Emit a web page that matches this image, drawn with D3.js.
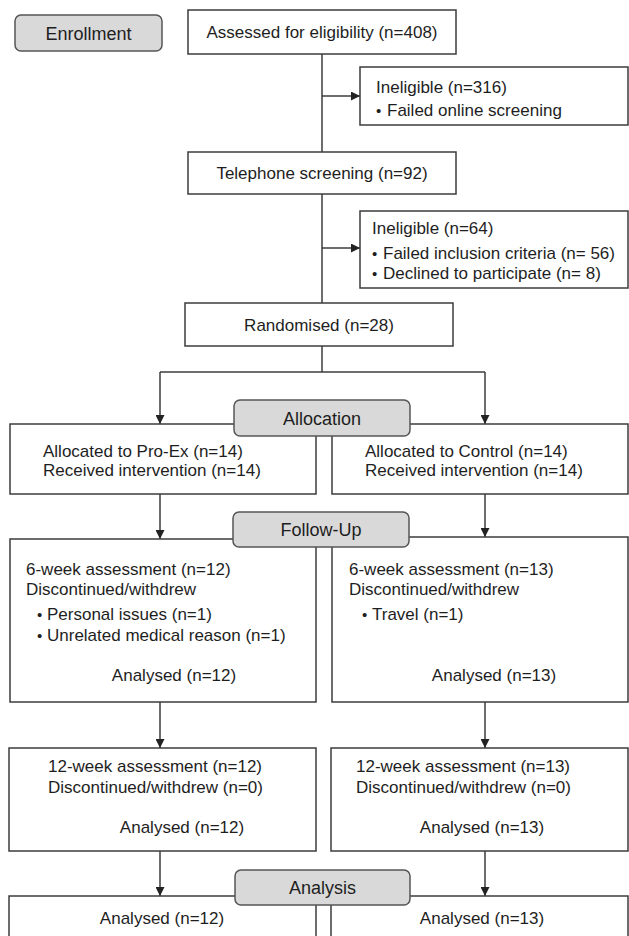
<!DOCTYPE html>
<html>
<head>
<meta charset="utf-8">
<script src="https://cdn.jsdelivr.net/npm/d3@7"></script>
<style>
  body { margin: 0; background: #fff; }
  text { font-family: "Liberation Sans", Arial, sans-serif; fill: #1e1e1e; }
</style>
</head>
<body>
<script>
// flow data
const phases = ['Enrollment', 'Allocation', 'Follow-Up', 'Analysis'];
const screening = ['Assessed for eligibility', 'Telephone screening', 'Randomised'];
const screeningN = [408, 92, 28];
const exclusionN = [316, 64];
const exclusionReasons = [
  ['Failed online screening'],
  ['Failed inclusion criteria (n= 56)', 'Declined to participate (n= 8)']
];
const arms = ['Pro-Ex', 'Control'];
const allocatedN = [14, 14];
const receivedN = [14, 14];
const week6N = [12, 13];
const week6Reasons = [['Personal issues (n=1)', 'Unrelated medical reason (n=1)'], ['Travel (n=1)']];
const week12N = [12, 13];
const week12WithdrewN = [0, 0];
const analysedN = [12, 13];

const W = 629, H = 936;
const LINE = '#3c3c3c';

const svg = d3.select('body').append('svg')
  .attr('width', W)
  .attr('height', H);

svg.append('defs').append('marker')
  .attr('id', 'head')
  .attr('markerUnits', 'userSpaceOnUse')
  .attr('markerWidth', 10)
  .attr('markerHeight', 9)
  .attr('refX', 9)
  .attr('refY', 4.5)
  .attr('orient', 'auto')
  .append('path')
  .attr('d', 'M0,0L9,4.5L0,9Z')
  .attr('fill', '#222');

const gLines = svg.append('g');
const gBoxes = svg.append('g');
const gPhase = svg.append('g');
const gText = svg.append('g');

function line(pts, head) {
  gLines.append('path')
    .attr('d', d3.line()(pts))
    .attr('fill', 'none')
    .attr('stroke', LINE)
    .attr('stroke-width', 1.5)
    .attr('marker-end', head ? 'url(#head)' : null);
}

function box(x0, y0, x1, y1) {
  gBoxes.append('rect')
    .attr('x', x0).attr('y', y0)
    .attr('width', x1 - x0).attr('height', y1 - y0)
    .attr('fill', '#fff')
    .attr('stroke', LINE)
    .attr('stroke-width', 1.5);
}

function phaseBox(name, x0, y0, x1, y1) {
  gPhase.append('rect')
    .attr('x', x0).attr('y', y0)
    .attr('width', x1 - x0).attr('height', y1 - y0)
    .attr('rx', 6)
    .attr('fill', '#d9d9d9')
    .attr('stroke', '#555')
    .attr('stroke-width', 1.5);
  label((x0 + x1) / 2, (y0 + y1) / 2 + 6.5, name, 'middle', 18);
}

function label(x, y, str, anchor, size) {
  gText.append('text')
    .attr('x', x).attr('y', y)
    .attr('text-anchor', anchor || 'start')
    .style('font-size', (size || 17) + 'px')
    .text(str);
}

function bullet(x, tx, y, str) {
  label(x, y, '\u2022', 'start', 15);
  label(tx, y, str);
}

// enrollment column
const trunkX = 322;
const stepBox = [[188, 10, 456, 54], [188, 152, 456, 194], [185, 303, 453, 346]];
screening.forEach((s, i) => {
  const b = stepBox[i];
  box(b[0], b[1], b[2], b[3]);
  label((b[0] + b[2]) / 2, (b[1] + b[3]) / 2 + 6, s + ' (n=' + screeningN[i] + ')', 'middle');
});
line([[trunkX, 54], [trunkX, 152]]);
line([[trunkX, 194], [trunkX, 303]]);

const exclBox = [[360, 67, 628, 125], [360, 211, 628, 288]];
const exclArrowY = [96, 248];
const exclTextX = [[376, 387], [372, 383]];
const exclLineY = [[93, 116], [234, 259, 279]];
exclusionN.forEach((n, i) => {
  const b = exclBox[i];
  box(b[0], b[1], b[2], b[3]);
  line([[trunkX, exclArrowY[i]], [b[0], exclArrowY[i]]], true);
  label(exclTextX[i][0], exclLineY[i][0], 'Ineligible (n=' + n + ')');
  exclusionReasons[i].forEach((r, j) => {
    bullet(exclTextX[i][0], exclTextX[i][1], exclLineY[i][j + 1], r);
  });
});

// arms
const armX = d3.scaleOrdinal().domain(arms).range([160, 485]);
const armLeft = d3.scaleOrdinal().domain(arms).range([10, 332]);
const armRight = d3.scaleOrdinal().domain(arms).range([316, 628]);

line([[trunkX, 346], [trunkX, 372]]);
line([[armX(arms[0]), 372], [armX(arms[1]), 372]]);

const allocTextX = d3.scaleOrdinal().domain(arms).range([43, 365]);
const w6TextX = d3.scaleOrdinal().domain(arms).range([26, 349]);
const w6Bullet = d3.scaleOrdinal().domain(arms).range([[37, 47], [362, 372]]);
const w6AnalysedX = d3.scaleOrdinal().domain(arms).range([174, 494]);
const w12TextX = d3.scaleOrdinal().domain(arms).range([48, 356]);
const w12AnalysedX = d3.scaleOrdinal().domain(arms).range([182, 482]);
const finalX = d3.scaleOrdinal().domain(arms).range([162, 482]);

arms.forEach((arm, i) => {
  const x = armX(arm), l = armLeft(arm), r = armRight(arm);
  // allocation
  line([[x, 372], [x, 424]], true);
  box(l, 424, r, 494);
  label(allocTextX(arm), 457, 'Allocated to ' + arm + ' (n=' + allocatedN[i] + ')');
  label(allocTextX(arm), 476, 'Received intervention (n=' + receivedN[i] + ')');
  // 6-week
  const top6 = i === 0 ? 539 : 537;
  line([[x, 494], [x, top6]], true);
  box(l, top6, r, 702);
  label(w6TextX(arm), 575, '6-week assessment (n=' + week6N[i] + ')');
  label(w6TextX(arm), 595, 'Discontinued/withdrew');
  week6Reasons[i].forEach((reason, j) => {
    bullet(w6Bullet(arm)[0], w6Bullet(arm)[1], 620 + j * 21, reason);
  });
  label(w6AnalysedX(arm), 681, 'Analysed (n=' + week6N[i] + ')', 'middle');
  // 12-week
  line([[x, 702], [x, 748]], true);
  box(l - 1, 748, r, 851);
  label(w12TextX(arm), 772, '12-week assessment (n=' + week12N[i] + ')');
  label(w12TextX(arm), 793, 'Discontinued/withdrew (n=' + week12WithdrewN[i] + ')');
  label(w12AnalysedX(arm), 833, 'Analysed (n=' + week12N[i] + ')', 'middle');
  // analysis
  line([[x, 851], [x, 896]], true);
  box(l - 1, 896, r, 960);
  label(finalX(arm), 924, 'Analysed (n=' + analysedN[i] + ')', 'middle');
});

// phase labels
const phaseBoxes = [[15, 15, 162, 51], [234, 400, 410, 436], [233, 512, 409, 547], [235, 870, 410, 905]];
phases.forEach((p, i) => {
  const b = phaseBoxes[i];
  phaseBox(p, b[0], b[1], b[2], b[3]);
});
</script>
</body>
</html>
